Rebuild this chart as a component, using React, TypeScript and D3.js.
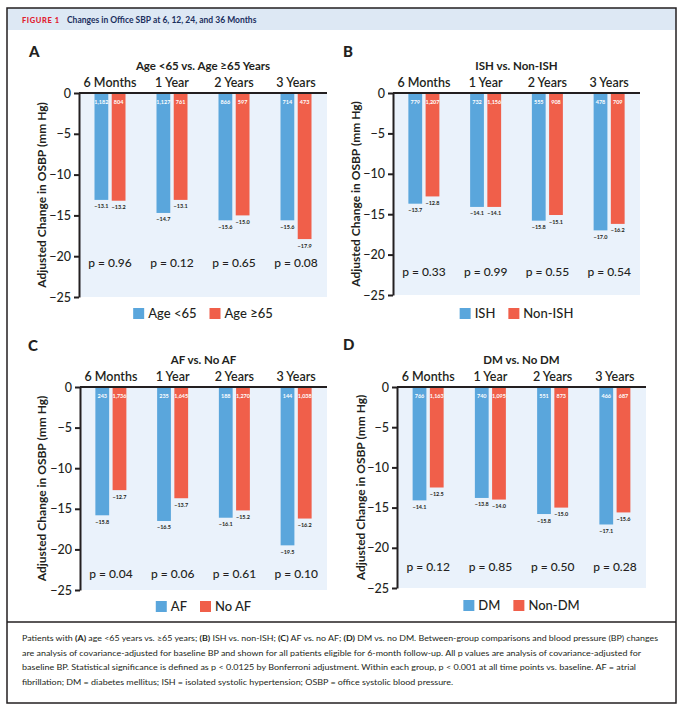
import React, { useEffect, useRef } from 'react';
import * as d3 from 'd3';

const periods = ['6 Months', '1 Year', '2 Years', '3 Years'];
const yTicks = [0, -5, -10, -15, -20, -25];

const titleA = 'Age <65 vs. Age ≥65 Years';
const namesA = ['Age <65', 'Age ≥65'];
const valuesA1 = [-13.1, -14.7, -15.6, -15.6];
const valuesA2 = [-13.2, -13.1, -15.0, -17.9];
const countsA1 = ['1,182', '1,127', '866', '714'];
const countsA2 = ['804', '761', '597', '473'];
const pA = ['0.96', '0.12', '0.65', '0.08'];

const titleB = 'ISH vs. Non-ISH';
const namesB = ['ISH', 'Non-ISH'];
const valuesB1 = [-13.7, -14.1, -15.8, -17.0];
const valuesB2 = [-12.8, -14.1, -15.1, -16.2];
const countsB1 = ['779', '732', '555', '478'];
const countsB2 = ['1,207', '1,156', '908', '709'];
const pB = ['0.33', '0.99', '0.55', '0.54'];

const titleC = 'AF vs. No AF';
const namesC = ['AF', 'No AF'];
const valuesC1 = [-15.8, -16.5, -16.1, -19.5];
const valuesC2 = [-12.7, -13.7, -15.2, -16.2];
const countsC1 = ['243', '235', '188', '144'];
const countsC2 = ['1,736', '1,645', '1,270', '1,038'];
const pC = ['0.04', '0.06', '0.61', '0.10'];

const titleD = 'DM vs. No DM';
const namesD = ['DM', 'Non-DM'];
const valuesD1 = [-14.1, -13.8, -15.8, -17.1];
const valuesD2 = [-12.5, -14.0, -15.0, -15.6];
const countsD1 = ['766', '740', '551', '466'];
const countsD2 = ['1,163', '1,095', '873', '687'];
const pD = ['0.12', '0.85', '0.50', '0.28'];

const panelsData = [
  { letter: 'A', title: titleA, names: namesA, v1: valuesA1, v2: valuesA2, c1: countsA1, c2: countsA2, p: pA },
  { letter: 'B', title: titleB, names: namesB, v1: valuesB1, v2: valuesB2, c1: countsB1, c2: countsB2, p: pB },
  { letter: 'C', title: titleC, names: namesC, v1: valuesC1, v2: valuesC2, c1: countsC1, c2: countsC2, p: pC },
  { letter: 'D', title: titleD, names: namesD, v1: valuesD1, v2: valuesD2, c1: countsC1 === countsD1 ? countsD1 : countsD1, c2: countsD2, p: pD },
];

// layout (positions only)
const layouts = [
  { ax: 79, right: 327, y0: 93, y25: 297, lx: 29, ly: 57, legY: 313, labX: 43, pY: 262 },
  { ax: 393, right: 640, y0: 93, y25: 295, lx: 343, ly: 57, legY: 313, labX: 357, pY: 271 },
  { ax: 80, right: 327, y0: 387, y25: 590, lx: 28, ly: 351, legY: 606, labX: 43, pY: 573 },
  { ax: 397, right: 646, y0: 387, y25: 588, lx: 343, ly: 350, legY: 605, labX: 362, pY: 566 },
];

const captionLines = [
  { parts: [['Patients with ', false], ['(A)', true], [' age <65 years vs. ≥65 years; ', false], ['(B)', true], [' ISH vs. non-ISH; ', false], ['(C)', true], [' AF vs. no AF; ', false], ['(D)', true], [' DM vs. no DM. Between-group comparisons and blood pressure (BP) changes', false]], len: 636 },
  { parts: [['are analysis of covariance-adjusted for baseline BP and shown for all patients eligible for 6-month follow-up. All p values are analysis of covariance-adjusted for', false]], len: 619 },
  { parts: [['baseline BP. Statistical significance is defined as p < 0.0125 by Bonferroni adjustment. Within each group, p < 0.001 at all time points vs. baseline. AF = atrial', false]], len: 614 },
  { parts: [['fibrillation; DM = diabetes mellitus; ISH = isolated systolic hypertension; OSBP = office systolic blood pressure.', false]], len: 431 },
];

const BLUE = '#5aa6dc';
const RED = '#f05f4a';
const INK = '#231f20';
const FONT = 'Lato, "Open Sans", sans-serif';

export default function App() {
  const ref = useRef<SVGSVGElement>(null);
  useEffect(() => {
    const svg = d3.select(ref.current);
    svg.selectAll('*').remove();

    // frame + header
    svg.append('rect').attr('x', 7).attr('y', 8).attr('width', 669).attr('height', 22).attr('fill', '#dde8f4');
    svg.append('rect').attr('x', 7).attr('y', 8).attr('width', 669).attr('height', 695)
      .attr('fill', 'none').attr('stroke', INK).attr('stroke-width', 1.5);
    svg.append('line').attr('x1', 7).attr('x2', 676).attr('y1', 622).attr('y2', 622).attr('stroke', INK).attr('stroke-width', 1.5);
    svg.append('text').attr('x', 22).attr('y', 22.5).attr('font-family', FONT).attr('font-weight', 900)
      .attr('font-size', 7.5).attr('letter-spacing', 0.6).attr('fill', '#e0202f').text('FIGURE 1');
    svg.append('text').attr('x', 67).attr('y', 22.5).attr('font-family', FONT).attr('font-weight', 700)
      .attr('font-size', 8.5).attr('fill', '#1b2f5e').text('Changes in Office SBP at 6, 12, 24, and 36 Months');

    panelsData.forEach((pd, i) => {
      const L = layouts[i];
      const g = svg.append('g');
      const y = d3.scaleLinear().domain([0, -25]).range([L.y0, L.y25]);
      const x = d3.scaleBand<string>().domain(periods).range([L.ax, L.right]);
      const sub = d3.scaleBand<number>().domain([0, 1]).range([-15.5, 15.5]).paddingInner(0.2);
      const cx = (d: string) => (x(d) as number) + x.bandwidth() / 2;
      const midX = (L.ax + L.right) / 2;

      g.append('rect').attr('x', L.ax).attr('y', L.y0).attr('width', L.right - L.ax).attr('height', L.y25 - L.y0).attr('fill', '#eaf2fb');

      g.append('text').attr('x', L.lx).attr('y', L.ly).attr('font-family', FONT).attr('font-weight', 900)
        .attr('font-size', 15).attr('fill', INK).text(pd.letter);
      g.append('text').attr('x', midX).attr('y', L.y0 - 23).attr('text-anchor', 'middle').attr('font-family', FONT)
        .attr('font-weight', 700).attr('font-size', 11.5).attr('fill', INK).text(pd.title);
      g.selectAll('.per').data(periods).enter().append('text')
        .attr('x', d => cx(d)).attr('y', L.y0 - 6).attr('text-anchor', 'middle').attr('font-family', FONT)
        .attr('font-weight', 600).attr('font-size', 12.5).attr('fill', INK).text(d => d);

      const series = [pd.v1, pd.v2];
      const counts = [pd.c1, pd.c2];
      const colors = [BLUE, RED];
      series.forEach((vals, s) => {
        const bx = (d: string) => cx(d) + (sub(s) as number);
        g.selectAll(`.bar${s}`).data(periods).enter().append('rect')
          .attr('x', d => bx(d)).attr('width', sub.bandwidth())
          .attr('y', y(0)).attr('height', (d, k) => y(vals[k]) - y(0)).attr('fill', colors[s]);
        g.selectAll(`.cnt${s}`).data(periods).enter().append('text')
          .attr('x', d => bx(d) + sub.bandwidth() / 2).attr('y', L.y0 + 11).attr('text-anchor', 'middle')
          .attr('font-family', FONT).attr('font-weight', 700).attr('font-size', 5.5).attr('fill', '#fff')
          .text((d, k) => counts[s][k]);
        g.selectAll(`.val${s}`).data(periods).enter().append('text')
          .attr('x', d => bx(d) + sub.bandwidth() / 2).attr('y', (d, k) => y(vals[k]) + 8.5).attr('text-anchor', 'middle')
          .attr('font-family', FONT).attr('font-weight', 700).attr('font-size', 5.5).attr('fill', INK)
          .text((d, k) => '−' + Math.abs(vals[k]).toFixed(1));
      });

      g.selectAll('.pv').data(periods).enter().append('text')
        .attr('x', d => cx(d)).attr('y', L.pY + 4.5).attr('text-anchor', 'middle').attr('font-family', FONT)
        .attr('font-weight', 500).attr('font-size', 12).attr('fill', INK).text((d, k) => 'p = ' + pd.p[k]);

      const axis = d3.axisLeft(y).tickValues(yTicks).tickSize(5).tickSizeOuter(0).tickPadding(3)
        .tickFormat(d => (d === 0 ? '0' : '−' + Math.abs(d as number)));
      const ag = g.append('g').attr('transform', `translate(${L.ax},0)`).call(axis);
      ag.select('.domain').attr('stroke', INK).attr('stroke-width', 2);
      ag.selectAll('.tick line').attr('stroke', INK).attr('stroke-width', 2);
      ag.selectAll('.tick text').attr('font-family', FONT).attr('font-size', 12.5).attr('font-weight', 500).attr('fill', INK);
      g.append('line').attr('x1', L.ax).attr('x2', L.right).attr('y1', L.y0).attr('y2', L.y0).attr('stroke', INK).attr('stroke-width', 2);

      g.append('text').attr('transform', `translate(${L.labX},${(L.y0 + L.y25) / 2}) rotate(-90)`)
        .attr('text-anchor', 'middle').attr('dominant-baseline', 'middle').attr('font-family', FONT)
        .attr('font-weight', 700).attr('font-size', 12).attr('fill', INK).text('Adjusted Change in OSBP (mm Hg)');

      // legend
      const lg = g.append('g');
      let xx = 0;
      pd.names.forEach((nm, s) => {
        lg.append('rect').attr('x', xx).attr('y', L.legY - 5).attr('width', 11).attr('height', 11).attr('fill', colors[s]);
        const t = lg.append('text').attr('x', xx + 15).attr('y', L.legY + 5).attr('font-family', FONT)
          .attr('font-weight', 500).attr('font-size', 13).attr('fill', INK).text(nm);
        const w = (t.node() as SVGTextElement).getComputedTextLength();
        xx += 15 + w + (s === 0 ? 13 : 0);
      });
      lg.attr('transform', `translate(${midX - xx / 2},0)`);
    });

    captionLines.forEach((ln, i) => {
      const t = svg.append('text').attr('x', 22).attr('y', 641 + i * 14.6).attr('font-family', FONT)
        .attr('font-size', 8.3).attr('fill', INK).attr('textLength', ln.len).attr('lengthAdjust', 'spacingAndGlyphs');
      ln.parts.forEach(([s, b]) => {
        t.append('tspan').attr('font-weight', b ? 700 : 400).text(s as string);
      });
    });
  }, []);
  return (
    <svg ref={ref} width={683} height={709} style={{ position: 'absolute', left: 0, top: 0, background: '#fff' }} />
  );
}
